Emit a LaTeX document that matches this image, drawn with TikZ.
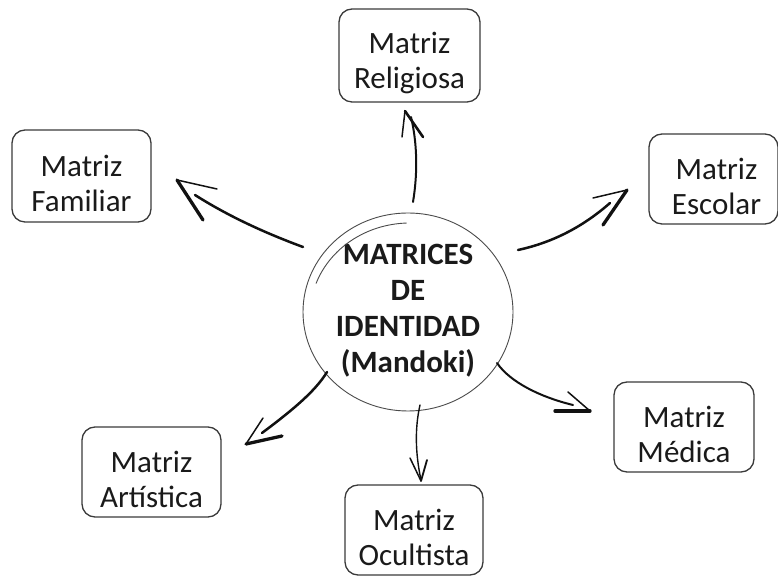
\documentclass[tikz,border=0pt]{standalone}
\usepackage{fontspec}
\setmainfont{Carlito}
\usetikzlibrary{shapes.geometric}
\definecolor{boxline}{HTML}{3A3A3A}
\definecolor{circline}{HTML}{4A4A4A}
\definecolor{txt}{HTML}{1A1A1A}
\definecolor{ink}{HTML}{111111}
% extra head room above the first line, so the two lines sit low in the box
\newcommand\boxstrut{\rule{0pt}{36pt}}

\begin{document}
\begin{tikzpicture}[x=1pt,y=1pt,
  box/.style={draw=boxline, line width=1.3pt, rounded corners=13pt,
    minimum height=90pt, align=center, text=txt, inner sep=0pt,
    font=\fontsize{31}{35}\selectfont},
  core/.style={align=center, text=txt, inner sep=0pt,
    font=\bfseries\fontsize{31}{36}\selectfont},
  sketch/.style={draw=circline, line width=0.9pt},
  shaft/.style={draw=ink, line width=2.5pt, line cap=round},
  barbthin/.style={draw=ink, line width=1.5pt, line cap=round},
  barbthick/.style={draw=ink, line width=3.3pt, line cap=round},
]
\useasboundingbox (0,0) rectangle (778,577);

% central hub
\node[core] (c) at (408,266) {MATRICES\\DE\\IDENTIDAD\\(Mandoki)};
\draw[sketch] (408,265) ellipse [x radius=105pt, y radius=99pt];
\draw[sketch] ([shift={(160:100pt and 92pt)}]410,262)
  arc[start angle=160, end angle=92, x radius=100pt, y radius=92pt];

% surrounding matrices
\node[box, minimum width=141pt, minimum height=93pt] (rel) at (409.5,521.5) {\boxstrut Matriz\\Religiosa};
\node[box, minimum width=139pt, minimum height=92pt] (fam) at (81.5,401) {\boxstrut Matriz\\Familiar};
\node[box, minimum width=129pt] (esc) at (713.5,398) {\boxstrut\hspace*{6pt}Matriz\\\hspace*{6pt}Escolar};
\node[box, minimum width=140pt] (med) at (684,150) {\boxstrut Matriz\\Médica};
\node[box, minimum width=139pt] (art) at (151.5,105) {\boxstrut Matriz\\Artística};
\node[box, minimum width=138pt] (ocu) at (414,47) {\boxstrut Matriz\\Ocultista};

% hand-drawn arrow ends
\coordinate (famT) at (303,330); \coordinate (famE) at (195,382);
\coordinate (famH) at (177,397); \coordinate (famA) at (217,388); \coordinate (famB) at (203,357);

\coordinate (escT) at (518,327); \coordinate (escE) at (610,374);
\coordinate (escH) at (627,387); \coordinate (escA) at (593,379); \coordinate (escB) at (603,352);

\coordinate (relT) at (413,375); \coordinate (relE) at (411,460);
\coordinate (relH) at (405,466); \coordinate (relA) at (402,440); \coordinate (relB) at (423,440);

\coordinate (artT) at (327,205); \coordinate (artE) at (262,144);
\coordinate (artH) at (246,133); \coordinate (artA) at (263,159); \coordinate (artB) at (282,141);

\coordinate (medT) at (497,214); \coordinate (medE) at (573,172);
\coordinate (medH) at (590,166); \coordinate (medA) at (568,185); \coordinate (medB) at (555,166);

\coordinate (ocuT) at (420,172); \coordinate (ocuE) at (421,97);
\coordinate (ocuH) at (421,96); \coordinate (ocuA) at (410,119); \coordinate (ocuB) at (427,117);

% familiar
\draw[shaft] (famT) .. controls (265,344) and (228,361) .. (famE);
\draw[barbthin] (famH) -- (famA);
\draw[barbthick] (famH) -- (famB);
% escolar
\draw[shaft] (escT) .. controls (555,335) and (585,352) .. (escE);
\draw[barbthin] (escH) -- (escA);
\draw[barbthick] (escH) -- (escB);
% religiosa
\draw[shaft, line width=2pt] (relT) .. controls (418,405) and (417,435) .. (relE);
\draw[barbthin] (relH) -- (relA);
\draw[barbthick, line width=2.6pt] (relH) -- (relB);
% artistica
\draw[shaft] (artT) .. controls (315,185) and (290,165) .. (artE);
\draw[barbthin] (artH) -- (artA);
\draw[barbthick] (artH) -- (artB);
% medica
\draw[shaft, line width=2pt] (medT) .. controls (510,195) and (540,180) .. (medE);
\draw[barbthin] (medH) -- (medA);
\draw[barbthick] (medH) -- (medB);
% ocultista
\draw[shaft, line width=1.4pt] (ocuT) .. controls (415,150) and (415,125) .. (ocuE);
\draw[barbthin] (ocuH) -- (ocuA);
\draw[barbthin, line width=1.8pt] (ocuH) -- (ocuB);
\end{tikzpicture}
\end{document}
